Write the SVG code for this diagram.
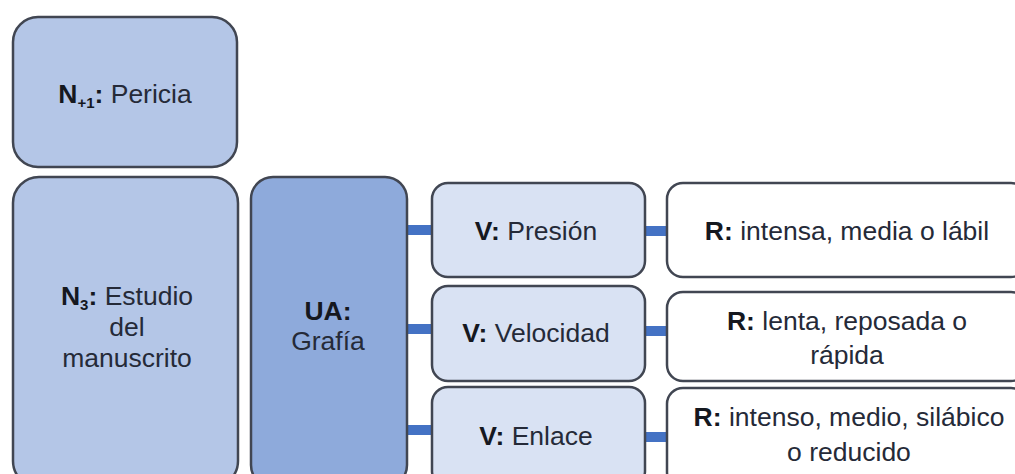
<svg xmlns="http://www.w3.org/2000/svg" width="1015" height="474" viewBox="0 0 1015 474">
<style>
.box{stroke:#414652;stroke-width:2.5}
.n{fill:#b4c6e7}
.ua{fill:#8eaadb}
.v{fill:#d9e2f3}
.r{fill:#ffffff}
text{font-family:"Liberation Sans",Arial,sans-serif;font-size:26.5px;fill:#252a38;text-anchor:middle}
.b{font-weight:bold;fill:#15181f}
.sub{font-size:15px;font-weight:bold;fill:#15181f}
.con{stroke:#4472c4;stroke-width:10}
</style>
<rect width="1015" height="474" fill="#ffffff"/>
<g id="connectors">
<line class="con" x1="407" y1="230" x2="432" y2="230"/>
<line class="con" x1="407" y1="329" x2="432" y2="329"/>
<line class="con" x1="407" y1="430" x2="432" y2="430"/>
<line class="con" x1="645" y1="231" x2="668" y2="231"/>
<line class="con" x1="645" y1="331" x2="668" y2="331"/>
<line class="con" x1="645" y1="437" x2="668" y2="437"/>
</g>
<g id="n_pericia">
<rect class="box n" x="13" y="17" width="224" height="150" rx="25"/>
<text x="125" y="103"><tspan class="b">N</tspan><tspan class="sub" dy="5">+1</tspan><tspan class="b" dy="-5">:</tspan> Pericia</text>
</g>
<g id="n_estudio">
<rect class="box n" x="13" y="177" width="225" height="310" rx="26"/>
<text x="127" y="305"><tspan class="b">N</tspan><tspan class="sub" dy="5">3</tspan><tspan class="b" dy="-5">:</tspan> Estudio</text>
<text x="127" y="336">del</text>
<text x="127" y="367">manuscrito</text>
</g>
<g id="ua_grafia">
<rect class="box ua" x="251" y="177" width="156" height="310" rx="22"/>
<text x="328" y="320" class="b">UA:</text>
<text x="328" y="350">Grafía</text>
</g>
<g id="v_presion">
<rect class="box v" x="432" y="183" width="213" height="94" rx="16"/>
<text x="536" y="240"><tspan class="b">V:</tspan> Presión</text>
</g>
<g id="v_velocidad">
<rect class="box v" x="432" y="286" width="213" height="95" rx="16"/>
<text x="536" y="342"><tspan class="b">V:</tspan> Velocidad</text>
</g>
<g id="v_enlace">
<rect class="box v" x="432" y="387" width="213" height="100" rx="16"/>
<text x="536" y="445"><tspan class="b">V:</tspan> Enlace</text>
</g>
<g id="r_presion">
<rect class="box r" x="667" y="183" width="360" height="94" rx="16"/>
<text x="847" y="240"><tspan class="b">R:</tspan> intensa, media o lábil</text>
</g>
<g id="r_velocidad">
<rect class="box r" x="667" y="292" width="360" height="89" rx="16"/>
<text x="847" y="330"><tspan class="b">R:</tspan> lenta, reposada o</text>
<text x="847" y="364">rápida</text>
</g>
<g id="r_enlace">
<rect class="box r" x="667" y="388" width="360" height="100" rx="16"/>
<text x="849" y="426"><tspan class="b">R:</tspan> intenso, medio, silábico</text>
<text x="849" y="461">o reducido</text>
</g>
</svg>
